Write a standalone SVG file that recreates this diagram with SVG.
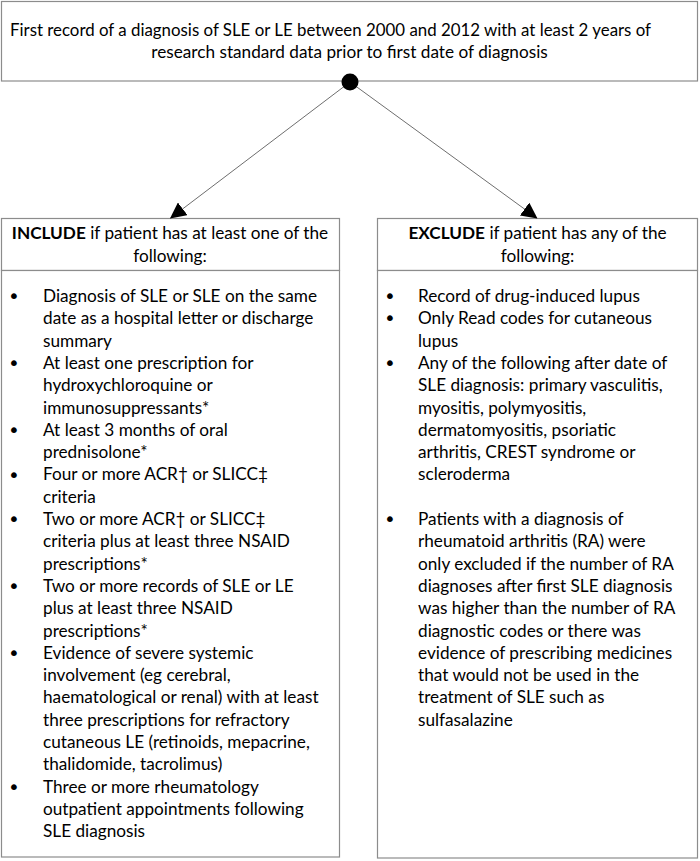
<svg xmlns="http://www.w3.org/2000/svg" width="700" height="861" viewBox="0 0 700 861">
<style>
  .box { fill: #ffffff; stroke: #8c8c8c; stroke-width: 1.2; }
  .t { font-family: Lato, "Open Sans", "Liberation Sans", sans-serif; font-size: 17.2px; fill: #000000; }
  .c { text-anchor: middle; }
  .b { font-weight: bold; }
  .bul { font-family: "DejaVu Sans", "Liberation Sans", sans-serif; font-size: 20px; fill: #000000; }
  .conn { stroke: #6e6e6e; stroke-width: 1; fill: none; }
</style>
<defs>
  <marker id="arrow" markerUnits="userSpaceOnUse" viewBox="0 0 16 16" refX="16" refY="8" markerWidth="16" markerHeight="16" orient="auto">
    <path d="M0,0 L16,8 L0,16 z" fill="#000000"/>
  </marker>
</defs>
<rect width="700" height="861" fill="#ffffff"/>

<g id="start">
  <rect class="box" x="1.5" y="1.5" width="696" height="79.5"/>
  <text class="t" x="10" y="36" textLength="641" lengthAdjust="spacingAndGlyphs">First record of a diagnosis of SLE or LE between 2000 and 2012 with at least 2 years of</text>
  <text class="t c" x="349.5" y="58">research standard data prior to first date of diagnosis</text>
</g>

<g id="include">
  <rect class="box" x="1.5" y="218.5" width="338" height="52"/>
  <rect class="box" x="1.5" y="270.5" width="338" height="586.5"/>
  <text class="t c" x="170" y="239"><tspan class="b">INCLUDE</tspan> if patient has at least one of the</text>
  <text class="t c" x="170" y="262">following:</text>
  <g class="bul">
    <text x="8" y="303">•</text>
    <text x="8" y="370">•</text>
    <text x="8" y="437">•</text>
    <text x="8" y="481.5">•</text>
    <text x="8" y="526">•</text>
    <text x="8" y="593">•</text>
    <text x="8" y="660">•</text>
    <text x="8" y="794">•</text>
  </g>
  <text class="t" x="43" y="302">
    <tspan x="43" y="302">Diagnosis of SLE or SLE on the same</tspan>
    <tspan x="43" y="324.3">date as a hospital letter or discharge</tspan>
    <tspan x="43" y="346.6">summary</tspan>
    <tspan x="43" y="368.9">At least one prescription for</tspan>
    <tspan x="43" y="391.2">hydroxychloroquine or</tspan>
    <tspan x="43" y="413.5">immunosuppressants*</tspan>
    <tspan x="43" y="435.8">At least 3 months of oral</tspan>
    <tspan x="43" y="458.1">prednisolone*</tspan>
    <tspan x="43" y="480.4">Four or more ACR†  or SLICC‡</tspan>
    <tspan x="43" y="502.7">criteria</tspan>
    <tspan x="43" y="525">Two or more ACR†   or SLICC‡</tspan>
    <tspan x="43" y="547.3">criteria plus at least three NSAID</tspan>
    <tspan x="43" y="569.6">prescriptions*</tspan>
    <tspan x="43" y="591.9">Two or more records of SLE or LE</tspan>
    <tspan x="43" y="614.2">plus at least three NSAID</tspan>
    <tspan x="43" y="636.5">prescriptions*</tspan>
    <tspan x="43" y="658.8">Evidence of severe systemic</tspan>
    <tspan x="43" y="681.1">involvement (eg  cerebral,</tspan>
    <tspan x="43" y="703.4">haematological or renal) with at least</tspan>
    <tspan x="43" y="725.7">three prescriptions for refractory</tspan>
    <tspan x="43" y="748">cutaneous LE (retinoids, mepacrine,</tspan>
    <tspan x="43" y="770.3">thalidomide, tacrolimus)</tspan>
    <tspan x="43" y="792.6">Three or more rheumatology</tspan>
    <tspan x="43" y="814.9">outpatient appointments following</tspan>
    <tspan x="43" y="837.2">SLE diagnosis</tspan>
  </text>
</g>

<g id="exclude">
  <rect class="box" x="377.5" y="218.5" width="320" height="52"/>
  <rect class="box" x="377.5" y="270.5" width="320" height="587.5"/>
  <text class="t c" x="537.5" y="239"><tspan class="b">EXCLUDE</tspan> if patient has any of the</text>
  <text class="t c" x="537.5" y="262">following:</text>
  <g class="bul">
    <text x="384" y="303">•</text>
    <text x="384" y="325.3">•</text>
    <text x="384" y="370">•</text>
    <text x="384" y="526">•</text>
  </g>
  <text class="t" x="418" y="302">
    <tspan x="418" y="302">Record of drug-induced lupus</tspan>
    <tspan x="418" y="324.3">Only Read codes for cutaneous</tspan>
    <tspan x="418" y="346.6">lupus</tspan>
    <tspan x="418" y="368.9">Any of the following after date of</tspan>
    <tspan x="418" y="391.2">SLE diagnosis: primary vasculitis,</tspan>
    <tspan x="418" y="413.5">myositis, polymyositis,</tspan>
    <tspan x="418" y="435.8">dermatomyositis, psoriatic</tspan>
    <tspan x="418" y="458.1">arthritis, CREST syndrome or</tspan>
    <tspan x="418" y="480.4">scleroderma</tspan>
    <tspan x="418" y="525">Patients with a diagnosis of</tspan>
    <tspan x="418" y="547.3">rheumatoid arthritis (RA) were</tspan>
    <tspan x="418" y="569.6">only excluded if the number of RA</tspan>
    <tspan x="418" y="591.9">diagnoses after first SLE diagnosis</tspan>
    <tspan x="418" y="614.2">was higher than the number of RA</tspan>
    <tspan x="418" y="636.5">diagnostic codes or there was</tspan>
    <tspan x="418" y="658.8">evidence of prescribing medicines</tspan>
    <tspan x="418" y="681.1">that would not be used in the</tspan>
    <tspan x="418" y="703.4">treatment of SLE such as</tspan>
    <tspan x="418" y="725.7">sulfasalazine</tspan>
  </text>
</g>

<g id="connectors">
  <line class="conn" x1="350" y1="82" x2="170" y2="218.5" marker-end="url(#arrow)"/>
  <line class="conn" x1="350" y1="82" x2="537.5" y2="218.5" marker-end="url(#arrow)"/>
  <circle cx="350" cy="82" r="8.5" fill="#000000"/>
</g>
</svg>
